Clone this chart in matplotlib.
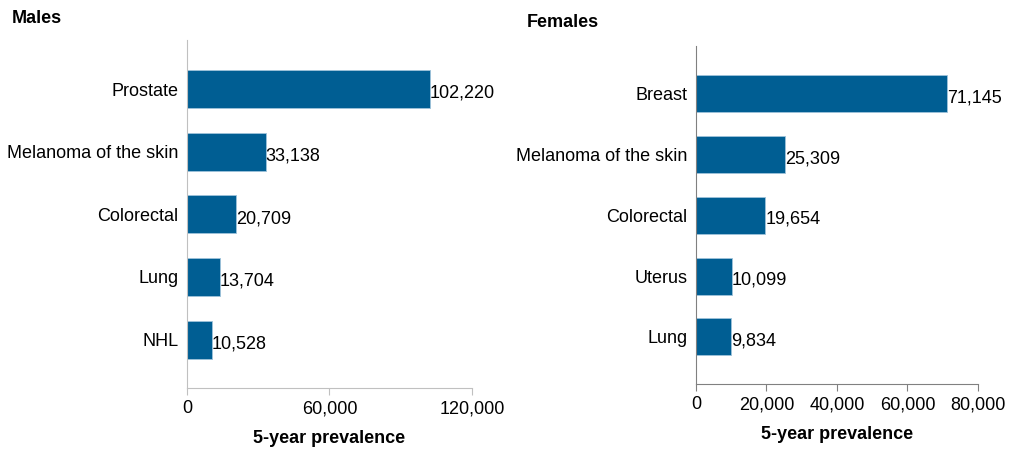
import numpy as np
import matplotlib.pyplot as plt
from matplotlib.ticker import FuncFormatter

plt.rcParams['font.family'] = ['Liberation Sans', 'DejaVu Sans']

# data
male_sites = ['Prostate', 'Melanoma of the skin', 'Colorectal', 'Lung', 'NHL']
male_vals = [102220, 33138, 20709, 13704, 10528]
female_sites = ['Breast', 'Melanoma of the skin', 'Colorectal', 'Uterus', 'Lung']
female_vals = [71145, 25309, 19654, 10099, 9834]

male_ticks = [0, 60000, 120000]
female_ticks = [0, 20000, 40000, 60000, 80000]

bar_col = '#005E93'
fs = 13
fmt = FuncFormatter(lambda v, p: f'{int(v):,}')


def panel(ax, sites, vals, ticks, spine_col):
 y = np.arange(len(sites))
 ax.barh(y, vals, height=0.61, color=bar_col, edgecolor='#9fc3da', linewidth=0.6)
 for yi, v in zip(y, vals):
  ax.text(v, yi + 0.07, f'{v:,}', va='center', ha='left', fontsize=fs)
 ax.set_yticks(y)
 ax.set_yticklabels(sites, fontsize=fs)
 ax.set_ylim(4.77, -0.78)
 ax.set_xlim(0, ticks[-1])
 ax.set_xticks(ticks)
 ax.xaxis.set_major_formatter(fmt)
 ax.tick_params(axis='y', length=0, pad=6)
 ax.tick_params(axis='x', length=5, color=spine_col, labelsize=fs, pad=4)
 for s in ['top', 'right']:
  ax.spines[s].set_visible(False)
 ax.spines['left'].set_color(spine_col)
 ax.spines['bottom'].set_color(spine_col)
 ax.set_xlabel('5-year prevalence', fontsize=fs, fontweight='bold', labelpad=9)


fig = plt.figure(figsize=(10.16, 4.51), dpi=100)
ax1 = fig.add_axes([0.184, 0.140, 0.2806, 0.771])
ax2 = fig.add_axes([0.685, 0.149, 0.2776, 0.749])

panel(ax1, male_sites, male_vals, male_ticks, '#c0c0c0')
panel(ax2, female_sites, female_vals, female_ticks, '#808080')

fig.text(0.012, 0.96, 'Males', fontsize=fs, fontweight='bold', va='center')
fig.text(0.518, 0.951, 'Females', fontsize=fs, fontweight='bold', va='center')

fig.savefig('out.png', dpi=100)
